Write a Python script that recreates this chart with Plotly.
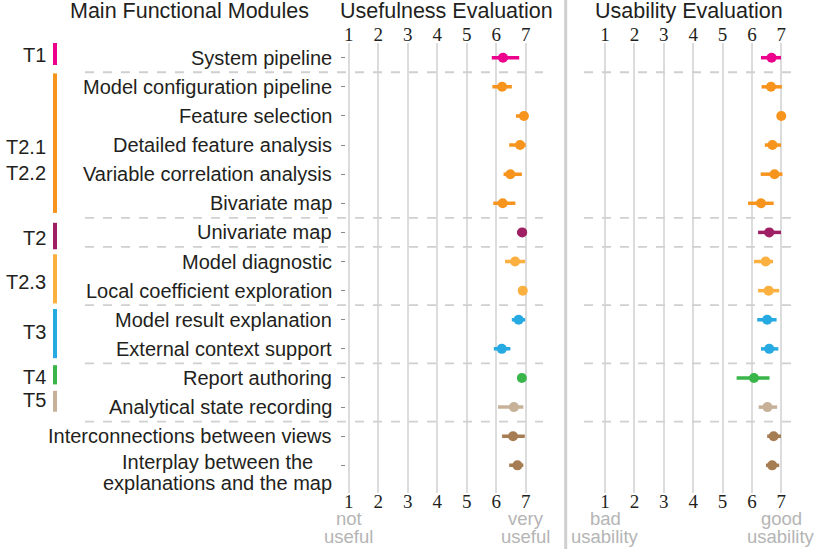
import plotly.graph_objects as go

# ---------------- data ----------------
modules = [
    "System pipeline",
    "Model configuration pipeline",
    "Feature selection",
    "Detailed feature analysis",
    "Variable correlation analysis",
    "Bivariate map",
    "Univariate map",
    "Model diagnostic",
    "Local coefficient exploration",
    "Model result explanation",
    "External context support",
    "Report authoring",
    "Analytical state recording",
    "Interconnections between views",
    "Interplay between the<br>explanations and the map",
]
row_task = ["T1", "T2.1/T2.2", "T2.1/T2.2", "T2.1/T2.2", "T2.1/T2.2", "T2.1/T2.2",
            "T2", "T2.3", "T2.3", "T3", "T3", "T4", "T5", "Other", "Other"]

useful_mean = [6.23, 6.20, 6.94, 6.81, 6.48, 6.22, 6.88, 6.64, 6.90, 6.76, 6.19, 6.87, 6.60, 6.57, 6.72]
useful_lo   = [5.85, 5.87, 6.67, 6.44, 6.25, 5.90, 6.71, 6.30, 6.90, 6.53, 5.92, 6.87, 6.06, 6.20, 6.44]
useful_hi   = [6.78, 6.53, 7.04, 7.00, 6.87, 6.65, 7.00, 6.98, 6.90, 6.98, 6.48, 6.87, 6.92, 6.97, 6.92]

usab_mean = [6.67, 6.65, 7.00, 6.70, 6.77, 6.31, 6.59, 6.47, 6.57, 6.52, 6.59, 6.07, 6.53, 6.74, 6.69]
usab_lo   = [6.31, 6.33, 7.00, 6.44, 6.30, 5.87, 6.21, 6.07, 6.21, 6.18, 6.31, 5.48, 6.23, 6.52, 6.48]
usab_hi   = [6.99, 7.02, 7.00, 6.99, 7.04, 6.74, 6.99, 6.72, 6.93, 6.84, 6.90, 6.60, 6.86, 6.99, 6.93]

scale_ticks = [1, 2, 3, 4, 5, 6, 7]

task_labels = ["T1", "T2.1<br>T2.2", "T2", "T2.3", "T3", "T4", "T5"]
task_keys   = ["T1", "T2.1/T2.2", "T2", "T2.3", "T3", "T4", "T5"]

# ---------------- styles / layout helpers ----------------
task_colors = {
    "T1": "#EC008C", "T2.1/T2.2": "#F7941D", "T2": "#9E1F63", "T2.3": "#FBB040",
    "T3": "#27AAE1", "T4": "#39B54A", "T5": "#C7B299", "Other": "#A67C52",
}
# vertical extent of the colored group bars (row units) and label rows
task_bar_span = [(-0.61, 0.25), (0.54, 5.33), (5.67, 6.58), (6.75, 8.44),
                 (8.63, 10.32), (10.56, 11.22), (11.44, 12.16)]
task_label_row = [-0.09, 3.53, 6.2, 7.7, 9.42, 10.96, 11.76]
separator_after = [0, 5, 6, 8, 10, 12]

W, H = 831, 549
def px(p):
    return p / W
def py(p):
    return 1 - p / H

serif = "Liberation Serif, Times New Roman, serif"
sans = "Liberation Sans, Arial, sans-serif"
TXT = "#231f20"

XR = [0.9, 7.6]
x1_dom = [px(345.75), px(543.4)]
x2_dom = [px(602.1), px(798.9)]
y_dom = [py(493), py(43)]
YR = [14.95, -0.505]

fig = go.Figure()
n = len(modules)
for i in range(n):
    c = task_colors[row_task[i]]
    for (xa, m, lo, hi) in (("x", useful_mean, useful_lo, useful_hi),
                            ("x2", usab_mean, usab_lo, usab_hi)):
        fig.add_trace(go.Scatter(
            x=[m[i]], y=[i], xaxis=xa, yaxis="y", mode="markers",
            marker=dict(color=c, size=10),
            error_x=dict(type="data", symmetric=False,
                         array=[max(hi[i] - m[i], 0)],
                         arrayminus=[max(m[i] - lo[i], 0)],
                         color=c, thickness=3.5, width=0),
            showlegend=False, hoverinfo="x+y"))

# dummy traces for the bottom tick axes
fig.add_trace(go.Scatter(x=[1], y=[None], xaxis="x3", yaxis="y", showlegend=False, hoverinfo="skip"))
fig.add_trace(go.Scatter(x=[1], y=[None], xaxis="x4", yaxis="y", showlegend=False, hoverinfo="skip"))

def xax(**kw):
    d = dict(range=XR, tickvals=scale_ticks, ticktext=[str(t) for t in scale_ticks],
             showgrid=True, gridcolor="#dcdcdc", gridwidth=1.5, zeroline=False,
             showline=False, ticks="", tickfont=dict(family=serif, size=19, color=TXT),
             fixedrange=True, automargin=False)
    d.update(kw)
    return d

fig.update_layout(
    width=W, height=H, margin=dict(l=0, r=0, t=0, b=0, autoexpand=False),
    paper_bgcolor="white", plot_bgcolor="white",
    xaxis=xax(domain=x1_dom, anchor="y", side="top", ticklabelstandoff=-3),
    xaxis2=xax(domain=x2_dom, anchor="y", side="top", ticklabelstandoff=-3),
    xaxis3=xax(overlaying="x", anchor="y", side="bottom", showgrid=False, ticklabelstandoff=-5),
    xaxis4=xax(overlaying="x2", anchor="y", side="bottom", showgrid=False, ticklabelstandoff=-5),
    yaxis=dict(domain=y_dom, range=YR, anchor="x", tickvals=list(range(n)),
               showticklabels=False, ticks="outside", ticklen=4, tickcolor="#888",
               tickwidth=1, showgrid=False, zeroline=False, showline=False,
               fixedrange=True, automargin=False),
)

ann = []
# titles
for t, cx in (("Main Functional Modules", 189.5), ("Usefulness Evaluation", 446.5),
              ("Usability Evaluation", 689)):
    ann.append(dict(text=t, x=px(cx), y=py(11.5), xref="paper", yref="paper",
                    xanchor="center", yanchor="middle", showarrow=False,
                    font=dict(family=sans, size=21.5, color=TXT)))

# row labels
multi_center_x = 217.5
for i, lab in enumerate(modules):
    if "<br>" in lab:
        lines = lab.split("<br>")
        for k, t in enumerate(lines):
            ann.append(dict(text=t, x=px(multi_center_x), y=i, xref="paper", yref="y",
                            xanchor="center", yanchor="middle", showarrow=False,
                            yshift=3.5 - 21.3 * k,
                            font=dict(family=sans, size=20, color=TXT)))
    else:
        ann.append(dict(text=lab, x=px(334), y=i, xref="paper", yref="y", xanchor="right",
                        yanchor="middle", showarrow=False,
                        font=dict(family=sans, size=20, color=TXT)))

# task labels
for lab, r in zip(task_labels, task_label_row):
    ann.append(dict(text=lab, x=px(48), y=r, xref="paper", yref="y", xanchor="right",
                    yanchor="middle", align="left", showarrow=False,
                    font=dict(family=sans, size=20, color=TXT)))

# scale end labels
ends = [("x", 1, ["not", "useful"]), ("x", 7, ["very", "useful"]),
        ("x2", 1, ["bad", "usability"]), ("x2", 7, ["good", "usability"])]
for xa, xv, lines in ends:
    for k, t in enumerate(lines):
        ann.append(dict(text=t, x=xv, y=py(518 + 18.3 * k), xref=xa, yref="paper",
                        xanchor="center", yanchor="middle", showarrow=False,
                        font=dict(family=sans, size=18.5, color="#b5b5b5")))
fig.update_layout(annotations=ann)

shapes = []
# group color bars
for key, (a, b) in zip(task_keys, task_bar_span):
    shapes.append(dict(type="line", xref="paper", yref="y", x0=px(55), x1=px(55), y0=a, y1=b,
                       line=dict(color=task_colors[key], width=4)))
# dashed separators
for r in separator_after:
    yv = r + 0.5
    shapes.append(dict(type="line", xref="paper", yref="y", x0=px(85), x1=px(543), y0=yv, y1=yv,
                       line=dict(color="#d0d0d0", width=1.8, dash="dash")))
    shapes.append(dict(type="line", xref="paper", yref="y", x0=px(584), x1=px(798), y0=yv, y1=yv,
                       line=dict(color="#d0d0d0", width=1.8, dash="dash")))
# vertical panel separator
shapes.append(dict(type="line", xref="paper", yref="paper", x0=px(565.7), x1=px(565.7), y0=0, y1=1,
                   line=dict(color="#cfcfcf", width=3)))
fig.update_layout(shapes=shapes)

fig.write_html("out.html", config={"displayModeBar": False},
               post_script="document.body.style.margin='0';document.body.style.overflow='hidden';")
